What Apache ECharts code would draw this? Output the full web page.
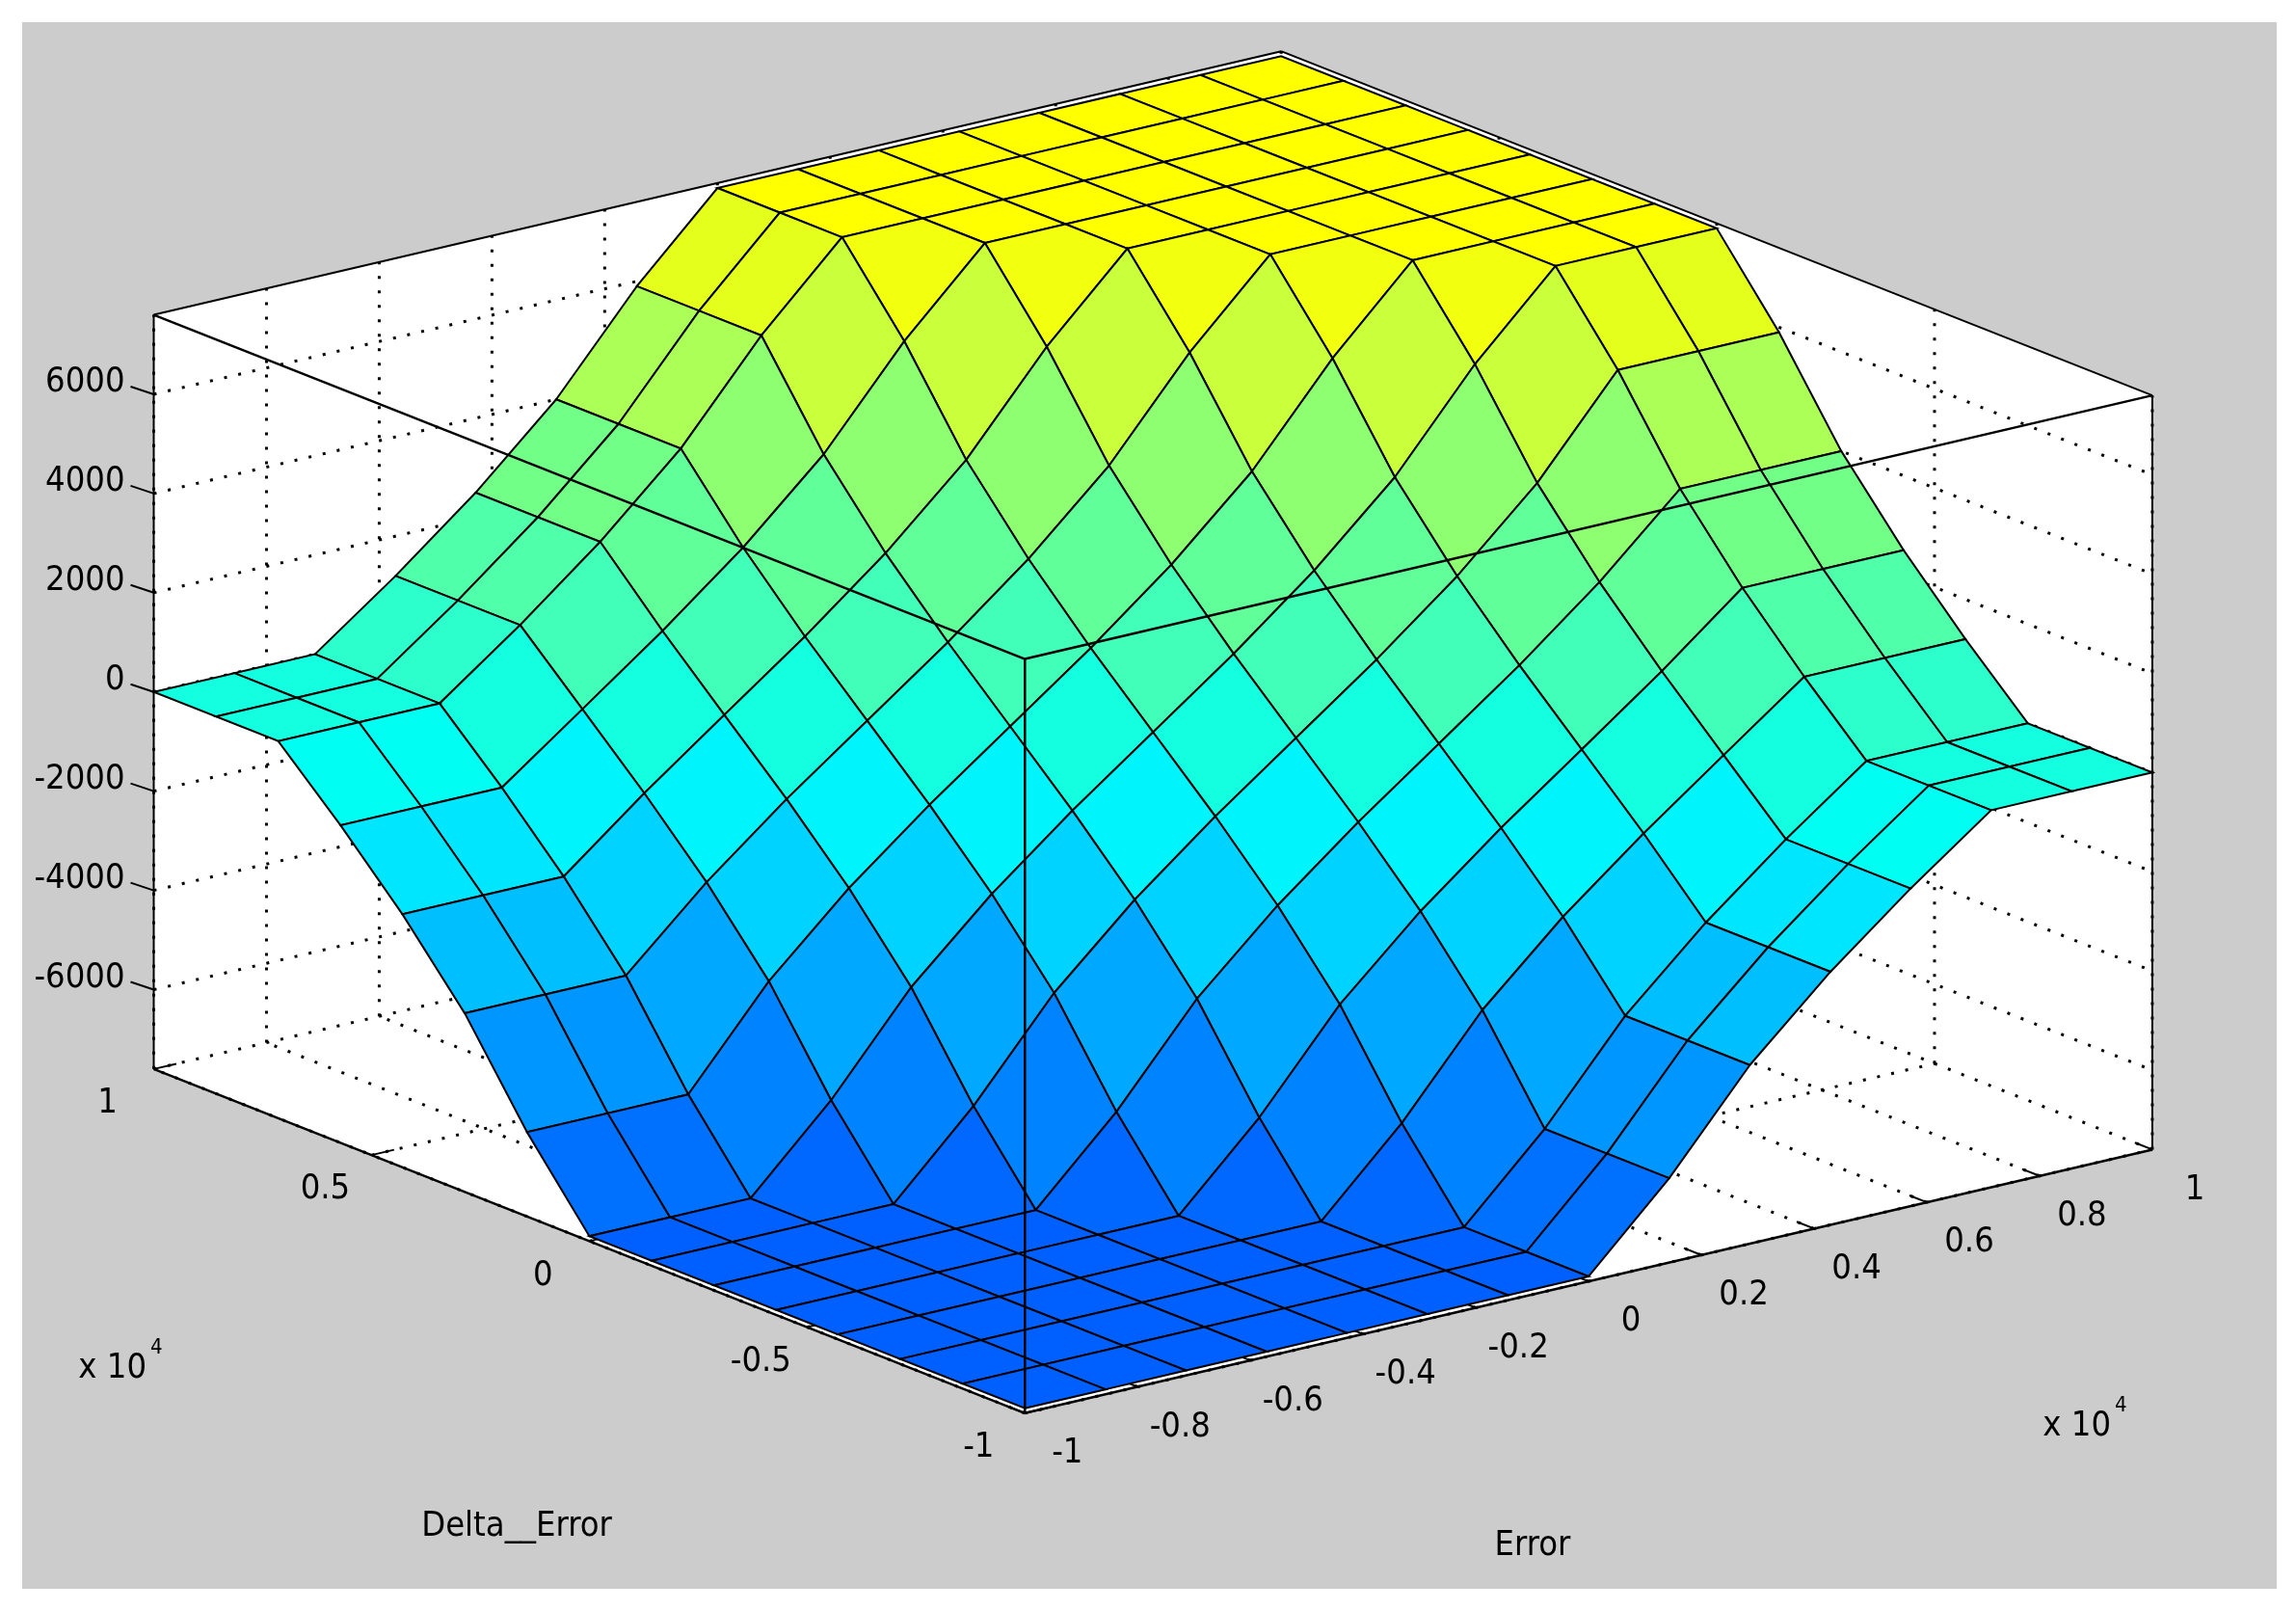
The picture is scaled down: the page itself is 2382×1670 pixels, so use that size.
<!DOCTYPE html>
<html><head><meta charset="utf-8">
<script src="https://cdn.jsdelivr.net/npm/echarts@6/dist/echarts.min.js"></script>
<style>html,body{margin:0;padding:0;background:#fff}#c{width:2382px;height:1670px}</style>
</head><body><div id="c"></div>
<script>
// Grid axes (normalised x 10^4)
const errorValues = [-1,-0.857,-0.714,-0.571,-0.429,-0.286,-0.143,0,0.143,0.286,0.429,0.571,0.714,0.857,1];
const deltaErrorValues = [-1,-0.857,-0.714,-0.571,-0.429,-0.286,-0.143,0,0.143,0.286,0.429,0.571,0.714,0.857,1];
// Output surface: rows = Delta_Error index, columns = Error index
const outputRows = [
[-7500,-7500,-7500,-7500,-7500,-7500,-7500,-7500,-5900,-4000,-2500,-1200,0,0,0],
[-7500,-7500,-7500,-7500,-7500,-7500,-7500,-7500,-5900,-4000,-2500,-1200,0,0,0],
[-7500,-7500,-7500,-7500,-7500,-7500,-7500,-7500,-5900,-4000,-2500,-1200,0,0,0],
[-7500,-7500,-7500,-7500,-7500,-7500,-7500,-5900,-4000,-2500,-1200,0,1200,1200,1200],
[-7500,-7500,-7500,-7500,-7500,-7500,-5900,-4000,-2500,-1200,0,1200,2500,2500,2500],
[-7500,-7500,-7500,-7500,-7500,-5900,-4000,-2500,-1200,0,1200,2500,4000,4000,4000],
[-7500,-7500,-7500,-7500,-5900,-4000,-2500,-1200,0,1200,2500,4000,5900,5900,5900],
[-7500,-7500,-7500,-5900,-4000,-2500,-1200,0,1200,2500,4000,5900,7500,7500,7500],
[-5900,-5900,-5900,-4000,-2500,-1200,0,1200,2500,4000,5900,7500,7500,7500,7500],
[-4000,-4000,-4000,-2500,-1200,0,1200,2500,4000,5900,7500,7500,7500,7500,7500],
[-2500,-2500,-2500,-1200,0,1200,2500,4000,5900,7500,7500,7500,7500,7500,7500],
[-1200,-1200,-1200,0,1200,2500,4000,5900,7500,7500,7500,7500,7500,7500,7500],
[0,0,0,1200,2500,4000,5900,7500,7500,7500,7500,7500,7500,7500,7500],
[0,0,0,1200,2500,4000,5900,7500,7500,7500,7500,7500,7500,7500,7500],
[0,0,0,1200,2500,4000,5900,7500,7500,7500,7500,7500,7500,7500,7500]
];
const zTicks = [-6000,-4000,-2000,0,2000,4000,6000];
const errorTicks = [-1,-0.8,-0.6,-0.4,-0.2,0,0.2,0.4,0.6,0.8,1];
const errorTickLabels = ['-1','-0.8','-0.6','-0.4','-0.2','0','0.2','0.4','0.6','0.8','1'];
const deltaTicks = [-1,-0.5,0,0.5,1];
const deltaTickLabels = ['-1','-0.5','0','0.5','1'];

const ZMIN=-7600, ZMAX=7600, S=1.519;
function P(e,d,z){
  const te=(e+1)/2, td=(d+1)/2, tz=(z-ZMIN)/(ZMAX-ZMIN);
  return [S*(700+770*te-595*td), S*(965-180*te-235*td-515*tz)];
}
const stops=[[-7500,[0,96,255]],[-4000,[0,170,255]],[-1500,[0,240,255]],[-500,[0,255,240]],[1000,[60,255,190]],[3500,[120,255,130]],[5500,[190,255,70]],[7500,[255,255,0]]];
function col(z){
  if(z<=stops[0][0])return 'rgb('+stops[0][1]+')';
  for(let k=1;k<stops.length;k++){ if(z<=stops[k][0]){const a=stops[k-1],b=stops[k],t=(z-a[0])/(b[0]-a[0]);
    return 'rgb('+a[1].map((v,i)=>Math.round(v+(b[1][i]-v)*t)).join(',')+')';}}
  return 'rgb(255,255,0)';
}
const quads=[];
for(let i=0;i<deltaErrorValues.length-1;i++)for(let j=0;j<errorValues.length-1;j++)quads.push([j,i,i+j]);
quads.sort((a,b)=>b[2]-a[2]);

const chart=echarts.init(document.getElementById('c'));
const ff='"Liberation Sans Narrow","DejaVu Sans Condensed","Liberation Sans"', fs=36;
function boxItems(api){
  const c=p=>api.coord(p);
  const els=[];
  const line=(a,b,style)=>els.push({type:'line',shape:{x1:c(a)[0],y1:c(a)[1],x2:c(b)[0],y2:c(b)[1]},style:Object.assign({stroke:'#000',lineWidth:2},style)});
  const poly=(pts,fill)=>els.push({type:'polygon',shape:{points:pts.map(c)},style:{fill:fill}});
  const txt=(p,t,align,extra)=>els.push({type:'text',x:c(p)[0],y:c(p)[1],style:Object.assign({text:t,fill:'#000',font:fs+'px '+ff,align:align||'center',verticalAlign:'middle'},extra||{})});
  poly([[23,23],[2362,23],[2362,1648],[23,1648]],'#cccccc');
  poly([P(-1,1,ZMAX),P(1,1,ZMAX),P(1,-1,ZMAX),P(1,-1,ZMIN),P(-1,-1,ZMIN),P(-1,1,ZMIN)],'#ffffff');
  const dot={lineDash:[3,12],lineWidth:3};
  zTicks.forEach(z=>{line(P(-1,1,z),P(1,1,z),dot);line(P(1,1,z),P(1,-1,z),dot);});
  errorTicks.forEach(e=>{line(P(e,1,ZMIN),P(e,1,ZMAX),dot);line(P(e,-1,ZMIN),P(e,1,ZMIN),dot);});
  deltaTicks.forEach(d=>{line(P(1,d,ZMIN),P(1,d,ZMAX),dot);line(P(-1,d,ZMIN),P(1,d,ZMIN),dot);});
  line(P(-1,1,ZMAX),P(1,1,ZMAX));line(P(1,1,ZMAX),P(1,-1,ZMAX));
  line(P(-1,1,ZMIN),P(-1,1,ZMAX));line(P(1,-1,ZMIN),P(1,-1,ZMAX));
  zTicks.forEach(z=>{const p=P(-1,1,z);line(p,[p[0]-24,p[1]-8]);txt([p[0]-30,p[1]-12],String(z),'right');});
  deltaTicks.forEach((d,k)=>{const p=P(-1,d,ZMIN);line(p,P(-0.96,d,ZMIN));txt([p[0]-48,p[1]+36],deltaTickLabels[k],'center');});
  errorTicks.forEach((e,k)=>{const p=P(e,-1,ZMIN);line(p,P(e,-0.96,ZMIN));txt([p[0]+44,p[1]+42],errorTickLabels[k],'center');});
  txt([152,1420],'x 10','right');txt([156,1398],'4','left',{font:'22px '+ff});
  txt([2190,1480],'x 10','right');txt([2194,1458],'4','left',{font:'22px '+ff});
  txt([536,1584],'Delta__Error','center');
  txt([1590,1604],'Error','center');
  return {type:'group',children:els};
}
function frontItems(api){
  const c=p=>api.coord(p);const els=[];
  const line=(a,b)=>els.push({type:'line',shape:{x1:c(a)[0],y1:c(a)[1],x2:c(b)[0],y2:c(b)[1]},style:{stroke:'#000',lineWidth:2.5}});
  line(P(-1,1,ZMIN),P(-1,-1,ZMIN));line(P(-1,-1,ZMIN),P(1,-1,ZMIN));
  line(P(-1,-1,ZMIN),P(-1,-1,ZMAX));
  line(P(-1,1,ZMAX),P(-1,-1,ZMAX));line(P(-1,-1,ZMAX),P(1,-1,ZMAX));
  return {type:'group',children:els};
}
chart.setOption({
  animation:false,
  grid:{left:0,right:0,top:0,bottom:0},
  xAxis:{type:'value',min:0,max:2382,show:false},
  yAxis:{type:'value',min:0,max:1670,inverse:true,show:false},
  series:[
    {type:'custom',data:[[0]],renderItem:(p,api)=>boxItems(api),silent:true,z:1},
    {type:'custom',data:quads,silent:true,z:2,renderItem:(params,api)=>{
      const j=api.value(0),i=api.value(1);
      const pts=[[i,j],[i,j+1],[i+1,j+1],[i+1,j]].map(([a,b])=>api.coord(P(errorValues[b],deltaErrorValues[a],outputRows[a][b])));
      const zc=(outputRows[i][j]+outputRows[i][j+1]+outputRows[i+1][j+1]+outputRows[i+1][j])/4;
      return {type:'polygon',shape:{points:pts},style:{fill:col(zc),stroke:'#000',lineWidth:2}};
    }},
    {type:'custom',data:[[0]],renderItem:(p,api)=>frontItems(api),silent:true,z:3}
  ]
});
</script></body></html>
